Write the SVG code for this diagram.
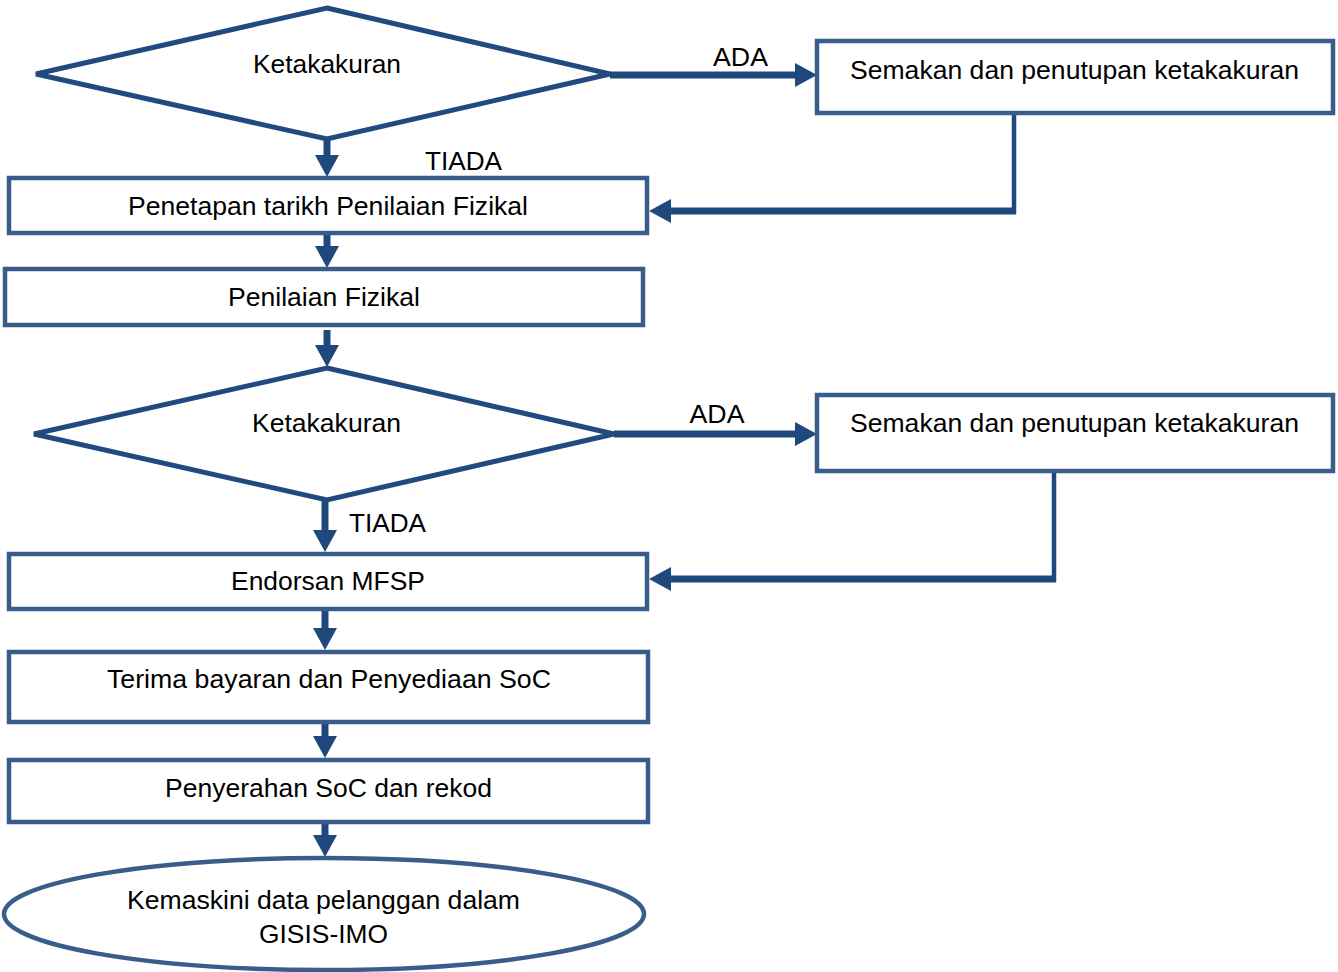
<svg xmlns="http://www.w3.org/2000/svg" width="1338" height="972" viewBox="0 0 1338 972">
<style>
.box{fill:#fff;stroke:#385d8a;stroke-width:4.5}
.dia{fill:#fff;stroke:#234a7e;stroke-width:5;stroke-linejoin:miter}
.t{font-family:"Liberation Sans",Arial,sans-serif;font-size:26px;fill:#000;text-anchor:middle}
.c{fill:none;stroke:#1f497d;stroke-width:7}
.cv{fill:none;stroke:#1f497d;stroke-width:4.5}
</style>
<defs>
<marker id="ah" markerUnits="userSpaceOnUse" viewBox="0 -12 22 24" refX="0" refY="0" markerWidth="22" markerHeight="24" orient="auto" overflow="visible">
<path d="M0,-12 L22,0 L0,12 z" fill="#1f497d"/>
</marker>
</defs>
<rect width="1338" height="972" fill="#fff"/>
<g id="connectors">
<path class="c" d="M610,75 H795" marker-end="url(#ah)"/>
<path class="cv" d="M1014,113 V214"/>
<path class="c" d="M1016,211 H671" marker-end="url(#ah)"/>
<path class="c" d="M327,138 V155" marker-end="url(#ah)"/>
<path class="c" d="M327,232 V246" marker-end="url(#ah)"/>
<path class="c" d="M327,330 V345" marker-end="url(#ah)"/>
<path class="c" d="M614,434 H795" marker-end="url(#ah)"/>
<path class="cv" d="M1054,465 V582"/>
<path class="c" d="M1056,579 H671" marker-end="url(#ah)"/>
<path class="c" d="M325,500 V530" marker-end="url(#ah)"/>
<path class="c" d="M325,605 V628" marker-end="url(#ah)"/>
<path class="c" d="M325,721 V736" marker-end="url(#ah)"/>
<path class="c" d="M325,820 V835" marker-end="url(#ah)"/>
<text class="t" x="740.5" y="66" textLength="55" lengthAdjust="spacingAndGlyphs">ADA</text>
<text class="t" x="463.5" y="170" textLength="77" lengthAdjust="spacingAndGlyphs">TIADA</text>
<text class="t" x="717" y="423" textLength="55" lengthAdjust="spacingAndGlyphs">ADA</text>
<text class="t" x="387.5" y="532" textLength="77" lengthAdjust="spacingAndGlyphs">TIADA</text>
</g>
<g id="d1">
<polygon class="dia" points="327,8 610,74 327,139 36,74"/>
<text class="t" x="327" y="73" textLength="148" lengthAdjust="spacingAndGlyphs">Ketakakuran</text>
</g>
<g id="s1">
<rect class="box" x="817" y="41" width="516" height="72"/>
<text class="t" x="1074.5" y="79" textLength="449" lengthAdjust="spacingAndGlyphs">Semakan dan penutupan ketakakuran</text>
</g>
<g id="penetapan">
<rect class="box" x="9" y="178" width="638" height="55"/>
<text class="t" x="328" y="215" textLength="400" lengthAdjust="spacingAndGlyphs">Penetapan tarikh Penilaian Fizikal</text>
</g>
<g id="penilaian">
<rect class="box" x="5" y="269" width="638" height="56"/>
<text class="t" x="324" y="306" textLength="192" lengthAdjust="spacingAndGlyphs">Penilaian Fizikal</text>
</g>
<g id="d2">
<polygon class="dia" points="327,368 614,434 327,500 34,434"/>
<text class="t" x="326.5" y="432" textLength="149" lengthAdjust="spacingAndGlyphs">Ketakakuran</text>
</g>
<g id="s2">
<rect class="box" x="817" y="395" width="516" height="76"/>
<text class="t" x="1074.5" y="432" textLength="449" lengthAdjust="spacingAndGlyphs">Semakan dan penutupan ketakakuran</text>
</g>
<g id="endorsan">
<rect class="box" x="9" y="554" width="638" height="55"/>
<text class="t" x="328" y="590" textLength="194" lengthAdjust="spacingAndGlyphs">Endorsan MFSP</text>
</g>
<g id="terima">
<rect class="box" x="9" y="652" width="639" height="70"/>
<text class="t" x="329" y="688" textLength="444" lengthAdjust="spacingAndGlyphs">Terima bayaran dan Penyediaan SoC</text>
</g>
<g id="penyerahan">
<rect class="box" x="9" y="760" width="639" height="62"/>
<text class="t" x="328.5" y="797" textLength="327" lengthAdjust="spacingAndGlyphs">Penyerahan SoC dan rekod</text>
</g>
<g id="kemaskini">
<ellipse class="box" cx="324" cy="914" rx="320" ry="56"/>
<text class="t" x="323.5" y="909" textLength="393" lengthAdjust="spacingAndGlyphs">Kemaskini data pelanggan dalam</text>
<text class="t" x="323.5" y="943" textLength="129" lengthAdjust="spacingAndGlyphs">GISIS-IMO</text>
</g>
</svg>
